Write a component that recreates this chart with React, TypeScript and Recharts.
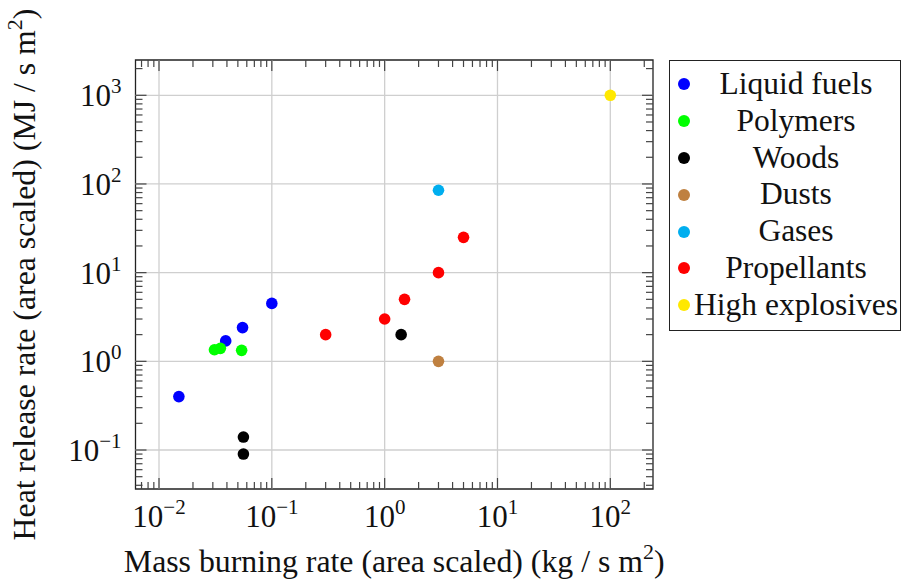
import React from 'react';
import { ScatterChart, Scatter, XAxis, YAxis, ReferenceLine, ReferenceArea, Legend } from 'recharts';

const FONT = '"Liberation Serif", "Times New Roman", serif';
const W = 901;
const H = 584;
const PLOT_LEFT = 135.5;
const PLOT_RIGHT = 653;
const PLOT_TOP = 60;
const PLOT_BOTTOM = 489;
const X_AXIS_H = 40;
const Y_AXIS_W = 60;

const X_DOMAIN = [0.00619, 239];
const Y_DOMAIN = [0.03633, 2500];

const X_MAJOR = [0.01, 0.1, 1, 10, 100];
const Y_MAJOR = [0.1, 1, 10, 100, 1000];
const X_MINOR = [0.007, 0.008, 0.009, 0.02, 0.03, 0.04, 0.05, 0.06, 0.07, 0.08, 0.09, 0.2, 0.3, 0.4, 0.5, 0.6, 0.7, 0.8, 0.9, 2, 3, 4, 5, 6, 7, 8, 9, 20, 30, 40, 50, 60, 70, 80, 90, 200];
const Y_MINOR = [0.04, 0.05, 0.06, 0.07, 0.08, 0.09, 0.2, 0.3, 0.4, 0.5, 0.6, 0.7, 0.8, 0.9, 2, 3, 4, 5, 6, 7, 8, 9, 20, 30, 40, 50, 60, 70, 80, 90, 200, 300, 400, 500, 600, 700, 800, 900, 2000];
const X_EXP: Record<string, string> = { '0.01': '−2', '0.1': '−1', '1': '0', '10': '1', '100': '2' };
const Y_EXP: Record<string, string> = { '0.1': '−1', '1': '0', '10': '1', '100': '2', '1000': '3' };

const liquidX = [0.015, 0.039, 0.055, 0.1];
const liquidY = [0.4, 1.7, 2.4, 4.5];
const polymerX = [0.031, 0.035, 0.054];
const polymerY = [1.35, 1.4, 1.33];
const woodX = [0.056, 0.056, 1.4];
const woodY = [0.14, 0.09, 2];
const dustX = [3];
const dustY = [1];
const gasX = [3];
const gasY = [85];
const propX = [0.3, 1, 1.5, 3, 5];
const propY = [2, 3, 5, 10, 25];
const hexX = [100];
const hexY = [1000];

const seriesNames = ['Liquid fuels', 'Polymers', 'Woods', 'Dusts', 'Gases', 'Propellants', 'High explosives'];
const seriesColors = ['#0000ff', '#00ff00', '#000000', '#bf8040', '#00aeef', '#ff0000', '#ffe800'];
const seriesXs = [liquidX, polymerX, woodX, dustX, gasX, propX, hexX];
const seriesYs = [liquidY, polymerY, woodY, dustY, gasY, propY, hexY];

const SERIES = seriesNames.map((name, i) => ({
  name,
  color: seriesColors[i],
  data: seriesXs[i].map((x, j) => ({ x, y: seriesYs[i][j] })),
}));

const TICK_COLOR = '#444';
const MAJOR_LEN = 11;
const MINOR_LEN = 7;
const TICK_FS = 31;
const SUP_FS = 21;
const TITLE_FS = 31.8;

const isMajor = (v: number) => Math.abs(Math.log10(v) - Math.round(Math.log10(v))) < 1e-9;

const renderXTick = (props: any) => {
  const { x, payload } = props;
  const v = payload.value;
  const major = isMajor(v);
  const len = major ? MAJOR_LEN : MINOR_LEN;
  return (
    <g key={'xt' + v}>
      <line x1={x} x2={x} y1={PLOT_BOTTOM} y2={PLOT_BOTTOM - len} stroke={TICK_COLOR} strokeWidth={1.2} />
      <line x1={x} x2={x} y1={PLOT_TOP} y2={PLOT_TOP + len} stroke={TICK_COLOR} strokeWidth={1.2} />
      {major && (
        <text x={x} y={PLOT_BOTTOM + 38} textAnchor="middle" fontFamily={FONT} fontSize={TICK_FS} fill="#111">
          10<tspan dy={-13} fontSize={SUP_FS}>{X_EXP[String(v)]}</tspan>
        </text>
      )}
    </g>
  );
};

const renderYTick = (props: any) => {
  const { y, payload } = props;
  const v = payload.value;
  const major = isMajor(v);
  const len = major ? MAJOR_LEN : MINOR_LEN;
  return (
    <g key={'yt' + v}>
      <line x1={PLOT_LEFT} x2={PLOT_LEFT + len} y1={y} y2={y} stroke={TICK_COLOR} strokeWidth={1.2} />
      <line x1={PLOT_RIGHT} x2={PLOT_RIGHT - len} y1={y} y2={y} stroke={TICK_COLOR} strokeWidth={1.2} />
      {major && (
        <text x={PLOT_LEFT - 14} y={y + 11} textAnchor="end" fontFamily={FONT} fontSize={TICK_FS} fill="#111">
          10<tspan dy={-13} fontSize={SUP_FS}>{Y_EXP[String(v)]}</tspan>
        </text>
      )}
    </g>
  );
};

const renderXLabel = () => (
  <text x={(PLOT_LEFT + PLOT_RIGHT) / 2} y={572} textAnchor="middle" fontFamily={FONT} fontSize={TITLE_FS} fill="#111">
    Mass burning rate (area scaled) (kg / s m<tspan dy={-13} fontSize={22}>2</tspan><tspan dy={13}>)</tspan>
  </text>
);

const renderYLabel = () => {
  const cx = 35;
  const cy = (PLOT_TOP + PLOT_BOTTOM) / 2;
  return (
    <text x={cx} y={cy} transform={`rotate(-90 ${cx} ${cy})`} textAnchor="middle" fontFamily={FONT} fontSize={TITLE_FS} fill="#111">
      Heat release rate (area scaled) (MJ / s m<tspan dy={-13} fontSize={22}>2</tspan><tspan dy={13}>)</tspan>
    </text>
  );
};

const LegendBox = (props: any) => {
  const payload = [...(props.payload || [])].sort(
    (a: any, b: any) => seriesNames.indexOf(a.value) - seriesNames.indexOf(b.value)
  );
  return (
    <div style={{ width: 232, height: 271, border: '1px solid #222', boxSizing: 'border-box', background: '#fff', fontFamily: FONT, fontSize: 31.5, paddingTop: 5, color: '#111' }}>
      {payload.map((p: any) => (
        <div key={p.value} style={{ position: 'relative', height: 36.8 }}>
          <span style={{ position: 'absolute', left: 8, top: 12.4, width: 12, height: 12, borderRadius: '50%', background: p.color }} />
          <span style={{ position: 'absolute', left: 126, top: 0, transform: 'translateX(-50%)', whiteSpace: 'nowrap', lineHeight: '36.8px' }}>{p.value}</span>
        </div>
      ))}
    </div>
  );
};

export default function App() {
  return (
    <div style={{ position: 'absolute', left: 0, top: 0, background: '#fff' }}>
      <ScatterChart
        width={W}
        height={H}
        margin={{ top: PLOT_TOP, right: W - PLOT_RIGHT, bottom: H - PLOT_BOTTOM - X_AXIS_H, left: PLOT_LEFT - Y_AXIS_W }}
      >
        <XAxis
          dataKey="x"
          type="number"
          scale="log"
          domain={X_DOMAIN}
          allowDataOverflow
          ticks={[...X_MINOR, ...X_MAJOR]}
          interval={0}
          tick={renderXTick}
          tickLine={false}
          axisLine={false}
          height={X_AXIS_H}
          label={renderXLabel}
        />
        <YAxis
          dataKey="y"
          type="number"
          scale="log"
          domain={Y_DOMAIN}
          allowDataOverflow
          ticks={[...Y_MINOR, ...Y_MAJOR]}
          interval={0}
          tick={renderYTick}
          tickLine={false}
          axisLine={false}
          width={Y_AXIS_W}
          label={renderYLabel}
        />
        {X_MAJOR.map((v) => (
          <ReferenceLine key={'gx' + v} x={v} stroke="#cfcfcf" strokeWidth={1.3} />
        ))}
        {Y_MAJOR.map((v) => (
          <ReferenceLine key={'gy' + v} y={v} stroke="#cfcfcf" strokeWidth={1.3} />
        ))}
        <ReferenceArea x1={X_DOMAIN[0]} x2={X_DOMAIN[1]} y1={Y_DOMAIN[0]} y2={Y_DOMAIN[1]} fill="none" fillOpacity={0} stroke="#222" strokeWidth={1.3} ifOverflow="visible" />
        {SERIES.map((s) => (
          <Scatter
            key={s.name}
            name={s.name}
            data={s.data}
            fill={s.color}
            isAnimationActive={false}
            shape={(p: any) => <circle cx={p.cx} cy={p.cy} r={5.8} fill={s.color} />}
          />
        ))}
        <Legend
          layout="vertical"
          align="center"
          verticalAlign="middle"
          itemSorter={null as any}
          content={<LegendBox />}
          wrapperStyle={{ left: 669, top: 60, width: 232, height: 271 }}
        />
      </ScatterChart>
    </div>
  );
}
